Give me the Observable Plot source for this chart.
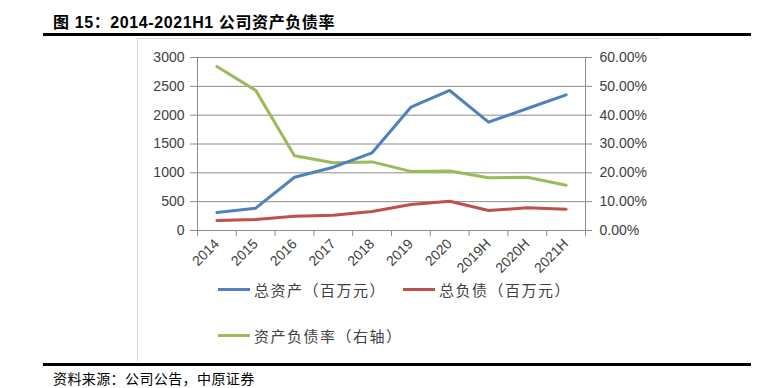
<!DOCTYPE html>
<html>
<head>
<meta charset="utf-8">
<script src="https://cdn.jsdelivr.net/npm/d3@7"></script>
<script src="https://cdn.jsdelivr.net/npm/@observablehq/plot@0.6"></script>
<style>
  html, body { margin: 0; padding: 0; background: #fff; }
  #page { position: relative; width: 768px; height: 388px; overflow: hidden; font-family: "Liberation Sans", "Noto Sans CJK SC", sans-serif; }
  #title { position: absolute; left: 53px; top: 9px; font-size: 16px; font-weight: bold; letter-spacing: 0.6px; color: #000; font-family: "Liberation Sans", "Noto Sans CJK SC", sans-serif; white-space: nowrap; }
  .thick { position: absolute; left: 43px; width: 708px; height: 3px; background: #000; }
  #boxTop { position: absolute; left: 137px; top: 38px; width: 523px; height: 1px; background: #d9d9d9; }
  #boxLeft { position: absolute; left: 137px; top: 38px; width: 1px; height: 323px; background: #d9d9d9; }
  #chart { position: absolute; left: 0; top: 40px; }
  .leg { position: absolute; font-family: "Noto Sans CJK SC", sans-serif; font-size: 15px; letter-spacing: 1.5px; color: #404040; white-space: nowrap; display: flex; align-items: center; }
  .sw { display: inline-block; width: 32px; height: 3px; margin-right: 4px; }
  #source { position: absolute; left: 53px; top: 368px; font-size: 14px; letter-spacing: 0.4px; color: #000; font-family: "Noto Sans CJK SC", sans-serif; white-space: nowrap; }
</style>
</head>
<body>
<div id="page">
  <div id="title">图 15：2014-2021H1 公司资产负债率</div>
  <div class="thick" style="top:33px"></div>
  <div id="boxTop"></div>
  <div id="boxLeft"></div>
  <div id="chart"></div>
  <div id="legend"></div>
  <div class="thick" style="top:363px"></div>
  <div id="source">资料来源：公司公告，中原证券</div>
</div>
<script>
const categories = ["2014","2015","2016","2017","2018","2019","2020","2019H","2020H","2021H"];
const totalAssets = [312, 387, 924, 1098, 1347, 2138, 2428, 1878, 2115, 2353];
const totalLiabilities = [173, 190, 248, 265, 329, 450, 508, 347, 393, 370];
const debtRatio = [56.9, 48.6, 25.9, 23.5, 23.8, 20.5, 20.6, 18.3, 18.5, 15.7];
const leftTicks = [0, 500, 1000, 1500, 2000, 2500, 3000];
const rightTickLabels = ["0.00%","10.00%","20.00%","30.00%","40.00%","50.00%","60.00%"];
const seriesNames = ["总资产（百万元）", "总负债（百万元）", "资产负债率（右轴）"];
const seriesColors = ["#4F81BD", "#C0504D", "#9BBB59"];

// right axis 0–60% mapped onto left axis 0–3000
const ratioToLeft = 3000 / 60;

const rows = categories.map((c, i) => ({
  i, c,
  assets: totalAssets[i],
  liab: totalLiabilities[i],
  ratio: debtRatio[i] * ratioToLeft
}));
const idx = categories.map((c, i) => i);
const bounds = [...idx.map(i => i - 0.5), categories.length - 0.5];

const grid = "#8c8c8c";
const chart = Plot.plot({
  width: 768,
  height: 250,
  marginLeft: 197,
  marginRight: 183,
  marginTop: 17,
  marginBottom: 60,
  style: { fontSize: "14px", fontFamily: "Liberation Sans, sans-serif", color: "#404040", background: "transparent" },
  x: { type: "linear", domain: [-0.5, categories.length - 0.5] },
  y: { domain: [0, 3000] },
  marks: [
    Plot.ruleY(leftTicks, { stroke: grid, strokeWidth: 1 }),
    Plot.ruleX([-0.5, categories.length - 0.5], { stroke: grid, strokeWidth: 1 }),
    Plot.axisY({ anchor: "left", ticks: leftTicks, tickSize: 7, tickPadding: 6, stroke: grid, label: null, tickFormat: d => String(d) }),
    Plot.axisY({ anchor: "right", ticks: leftTicks, tickSize: 6, tickPadding: 8, stroke: grid, label: null, textAnchor: "start", tickFormat: d => rightTickLabels[leftTicks.indexOf(d)] }),
    Plot.axisX({ ticks: bounds, tickSize: 6, stroke: grid, tickFormat: () => "", label: null }),
    Plot.axisX({ ticks: idx, tickSize: 0, tickPadding: 11, tickRotate: -45, label: null, tickFormat: d => categories[d] }),
    Plot.line(rows, { x: "i", y: "ratio", stroke: seriesColors[2], strokeWidth: 3, strokeLinejoin: "round" }),
    Plot.line(rows, { x: "i", y: "liab", stroke: seriesColors[1], strokeWidth: 3, strokeLinejoin: "round" }),
    Plot.line(rows, { x: "i", y: "assets", stroke: seriesColors[0], strokeWidth: 3, strokeLinejoin: "round" })
  ]
});
document.getElementById("chart").appendChild(chart);

const legendPos = [[218, 279], [403, 279], [218, 325]];
const legend = document.getElementById("legend");
seriesNames.forEach((name, k) => {
  const d = document.createElement("div");
  d.className = "leg";
  d.style.left = legendPos[k][0] + "px";
  d.style.top = legendPos[k][1] + "px";
  d.innerHTML = `<span class="sw" style="background:${seriesColors[k]}"></span><span>${name}</span>`;
  legend.appendChild(d);
});
</script>
</body>
</html>
